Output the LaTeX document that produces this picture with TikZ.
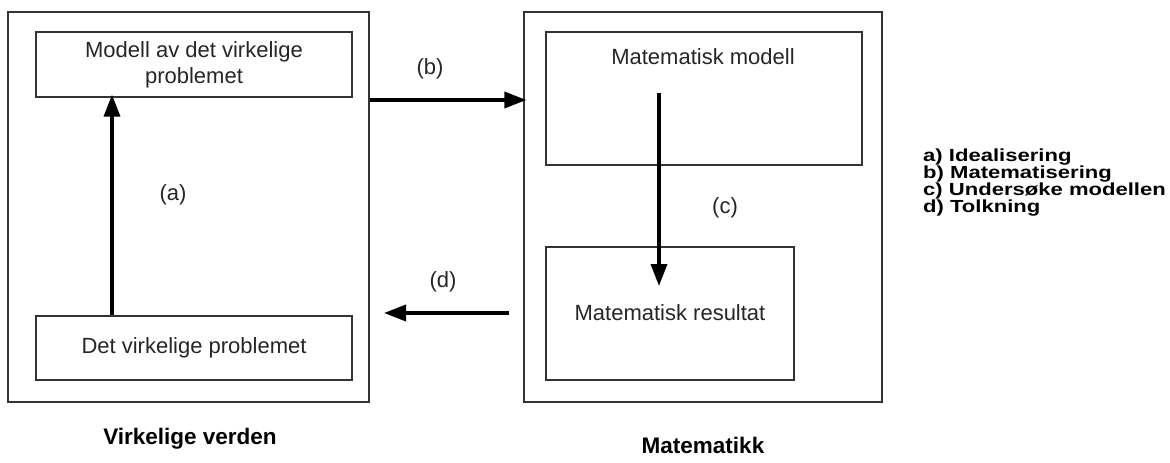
\documentclass[tikz,border=0pt]{standalone}
\usepackage{fontspec}
\setmainfont{Liberation Sans}
\newfontfamily\legendfont[FakeStretch=1.26]{Liberation Sans}
\usetikzlibrary{arrows.meta}
\definecolor{boxline}{HTML}{333333}
\begin{document}
\begin{tikzpicture}[x=1pt,y=-1pt,
  frame/.style={draw=boxline,line width=1.2pt,inner sep=0pt},
  txt/.style={font=\fontsize{22}{26}\selectfont,text=black!85,align=center,inner sep=0pt},
  lbl/.style={font=\fontsize{22}{26}\selectfont,text=black!85,inner sep=0pt},
  flow/.style={line width=3.5pt,-{Triangle[length=22pt,width=16pt]}},
  title/.style={font=\bfseries\fontsize{22.5}{26}\selectfont,inner sep=0pt},
  legend/.style={font=\legendfont\bfseries\fontsize{17.5}{17}\selectfont,inner sep=0pt,anchor=base west}]
\useasboundingbox (0,0) rectangle (1170,463);
\fill[white] (0,0) rectangle (1170,463);
% outer boxes
\node[frame,minimum width=361pt,minimum height=390pt] (leftOuter) at (188.5,207) {};
\node[frame,minimum width=358pt,minimum height=390pt] (rightOuter) at (703,207) {};
% inner boxes
\node[frame,minimum width=316pt,minimum height=65pt] (topL) at (194,64.5) {};
\node[txt] (topLt) at (194,65) {Modell av det virkelige\\problemet};
\node[frame,minimum width=316pt,minimum height=64pt] (botL) at (194,348) {};
\node[txt] (botLt) at (194,348) {Det virkelige problemet};
\node[frame,minimum width=316pt,minimum height=133pt] (topR) at (704,98.5) {};
\node[txt] (topRt) at (703,57) {Matematisk modell};
\node[frame,minimum width=248pt,minimum height=133pt] (botR) at (670,313.5) {};
\node[txt] (botRt) at (670,313) {Matematisk resultat};
% connector coordinates
\coordinate (aX) at (112,0);
\coordinate (bY) at (0,100);
\coordinate (cS) at (659,93);
\coordinate (cE) at (659,286);
\coordinate (dS) at (509,313);
\coordinate (dE) at (384,313);
% arrows
\draw[flow] (botL.north -| aX) -- ([yshift=3pt]topL.south -| aX);
\draw[flow] (leftOuter.east |- bY) -- ([xshift=3pt]rightOuter.west |- bY);
\draw[flow] (cS) -- (cE);
\draw[flow] (dS) -- (dE);
% labels
\node[lbl] (la) at (173,195) {(a)};
\node[lbl] (lb) at (430,69) {(b)};
\node[lbl] (lc) at (725,208) {(c)};
\node[lbl] (ld) at (443,282) {(d)};
% legend
\node[legend] (leg1) at (923,161) {a) Idealisering};
\node[legend] (leg2) at (923,178) {b) Matematisering};
\node[legend] (leg3) at (923,195) {c) Undersøke modellen};
\node[legend] (leg4) at (923,212) {d) Tolkning};
% titles
\node[title] (t1) at (190,439) {Virkelige verden};
\node[title] (t2) at (703,445) {Matematikk};
\end{tikzpicture}
\end{document}
